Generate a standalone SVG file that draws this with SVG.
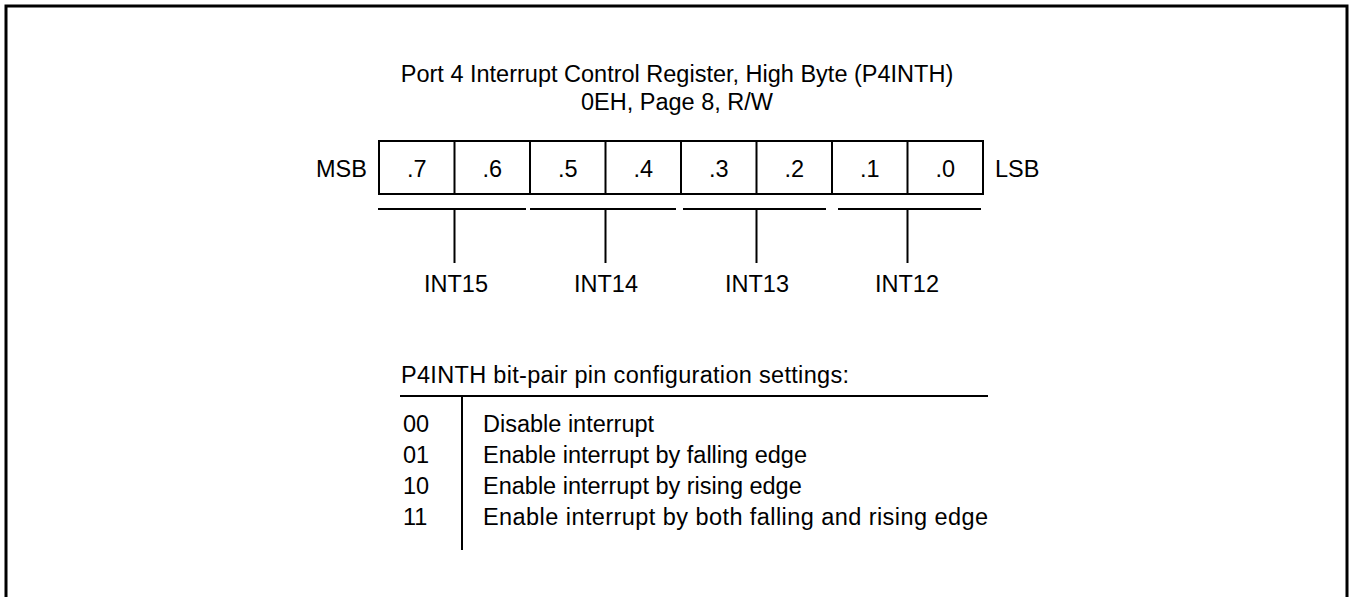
<svg xmlns="http://www.w3.org/2000/svg" width="1352" height="597" viewBox="0 0 1352 597">
<style>
text{font-family:"Liberation Sans",Arial,sans-serif;font-size:23.5px;fill:#000}
.c{text-anchor:middle}
.ln{stroke:#000;stroke-width:2;fill:none}
.bx{stroke:#000;stroke-width:2;fill:#fff}
</style>
<rect x="0" y="0" width="1352" height="597" fill="#fff"/>
<path class="ln" d="M6,597 V6 H1347 V597" style="stroke-width:3"/>
<g id="title">
<text class="c" x="677" y="82">Port 4 Interrupt Control Register, High Byte (P4INTH)</text>
<text class="c" x="677" y="109.5">0EH, Page 8, R/W</text>
</g>
<g id="register">
<text x="316" y="177">MSB</text>
<rect class="bx" x="379" y="141" width="604" height="53"/>
<path class="ln" d="M454.5,141V194M530,141V194M605.5,141V194M681,141V194M756.5,141V194M832,141V194M907.5,141V194"/>
<text class="c" x="416.8" y="177">.7</text>
<text class="c" x="492.3" y="177">.6</text>
<text class="c" x="567.8" y="177">.5</text>
<text class="c" x="643.3" y="177">.4</text>
<text class="c" x="718.8" y="177">.3</text>
<text class="c" x="794.3" y="177">.2</text>
<text class="c" x="869.8" y="177">.1</text>
<text class="c" x="945.3" y="177">.0</text>
<text x="995" y="177">LSB</text>
</g>
<g id="connectors">
<path class="ln" d="M378,209H526M530,209H676M683,209H826M838,209H981"/>
<path class="ln" d="M454.5,209V263M605.5,209V263M756.5,209V263M907.5,209V263"/>
</g>
<g id="int15"><text class="c" x="456" y="292">INT15</text></g>
<g id="int14"><text class="c" x="606" y="292">INT14</text></g>
<g id="int13"><text class="c" x="757" y="292">INT13</text></g>
<g id="int12"><text class="c" x="907" y="292">INT12</text></g>
<g id="settings">
<text x="401" y="383" textLength="448">P4INTH bit-pair pin configuration settings:</text>
<path class="ln" d="M400,396H988M462,396V550"/>
<text x="403" y="432">00</text>
<text x="483" y="432">Disable interrupt</text>
<text x="403" y="463">01</text>
<text x="483" y="463">Enable interrupt by falling edge</text>
<text x="403" y="494">10</text>
<text x="483" y="494">Enable interrupt by rising edge</text>
<text x="403" y="525">11</text>
<text x="483" y="525" textLength="505">Enable interrupt by both falling and rising edge</text>
</g>
</svg>
